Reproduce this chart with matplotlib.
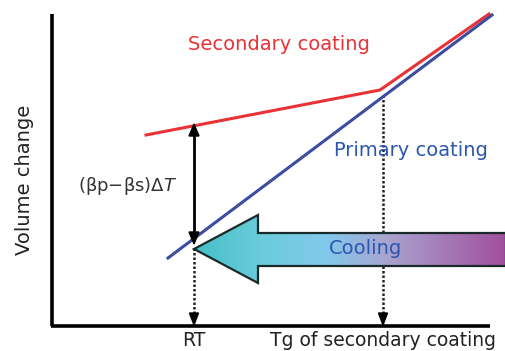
import numpy as np
import matplotlib.pyplot as plt
from matplotlib.patches import Polygon
from matplotlib.colors import LinearSegmentedColormap

# coordinates on a 505 x 351 canvas (y grows downward)
secondary_x = [146, 380, 489]
secondary_y = [135, 90, 14]
primary_x = [168, 492]
primary_y = [258, 15]

rt_x = 194
tg_x = 383
gap_top = 124
gap_bottom = 244
tg_start = 95
base_y = 326

fig = plt.figure(figsize=(5.05, 3.51), dpi=100)
ax = fig.add_axes([0, 0, 1, 1])
ax.set_xlim(0, 505)
ax.set_ylim(351, 0)
ax.axis('off')

# axes of the sketch
ax.plot([52, 52], [14, base_y], color='black', lw=2.6, solid_capstyle='butt')
ax.plot([51, 490], [base_y, base_y], color='black', lw=2.6, solid_capstyle='butt')

# dotted drop lines with arrowheads
ax.plot([tg_x, tg_x], [tg_start, base_y - 12], color='#222222', lw=1.8,
        ls=(0, (1, 0.8)), zorder=2)
ax.plot([rt_x, rt_x], [gap_bottom + 4, base_y - 12], color='#222222', lw=1.8,
        ls=(0, (1, 0.8)), zorder=2)
for x in (rt_x, tg_x):
    ax.add_patch(Polygon([[x - 4.5, base_y - 13], [x + 4.5, base_y - 13],
                          [x, base_y - 1]], closed=True, color='black', zorder=3))

# cooling arrow with gradient fill
tip = (rt_x, 249)
arrow = np.array([[tip[0], tip[1]], [258, 215], [258, 233], [506, 233],
                  [506, 266], [258, 266], [258, 283]])
cmap = LinearSegmentedColormap.from_list(
    'cool', [(0.0, '#45bfc6'), (0.22, '#6cccdc'), (0.42, '#82c9ec'),
             (0.62, '#a9a3cf'), (1.0, '#a04f9c')])
grad = np.linspace(0, 1, 256).reshape(1, -1)
img = ax.imshow(grad, cmap=cmap, extent=[tip[0], 506, 283, 215],
                aspect='auto', zorder=4)
patch = Polygon(arrow, closed=True, facecolor='none', edgecolor='#1a2a2a',
                lw=1.6, zorder=5)
ax.add_patch(patch)
img.set_clip_path(patch)
ax.set_xlim(0, 505)
ax.set_ylim(351, 0)

# coating lines
ax.plot(secondary_x, secondary_y, color='#ea3236', lw=2.2, zorder=6)
ax.plot(primary_x, primary_y, color='#3c4ca0', lw=2.2, zorder=6)

# double arrow for the volume gap at RT
ax.plot([rt_x, rt_x], [gap_top + 10, gap_bottom - 10], color='black', lw=2.0,
        zorder=7)
ax.add_patch(Polygon([[rt_x - 5, gap_top + 12], [rt_x + 5, gap_top + 12],
                      [rt_x, gap_top]], closed=True, color='black', zorder=7))
ax.add_patch(Polygon([[rt_x - 5, gap_bottom - 12], [rt_x + 5, gap_bottom - 12],
                      [rt_x, gap_bottom]], closed=True, color='black', zorder=7))

# labels
ax.text(279, 45, 'Secondary coating', color='#ea3236', fontsize=14,
        ha='center', va='center')
ax.text(411, 150, 'Primary coating', color='#2a56b0', fontsize=14,
        ha='center', va='center')
ax.text(366, 249, 'Cooling', color='#2a56b0', fontsize=14,
        ha='center', va='center', zorder=8)
ax.text(128, 186, r'(βp$-$βs)Δ$T$', color='#333333', fontsize=13,
        ha='center', va='center')
ax.text(25, 180, 'Volume change', color='#222222', fontsize=14,
        rotation=90, ha='center', va='center')
ax.text(rt_x, 350.5, 'RT', color='#222222', fontsize=13.5, ha='center',
        va='bottom')
ax.text(tg_x, 350.5, 'Tg of secondary coating', color='#222222', fontsize=13.5,
        ha='center', va='bottom')

fig.savefig('out.png', dpi=100)
